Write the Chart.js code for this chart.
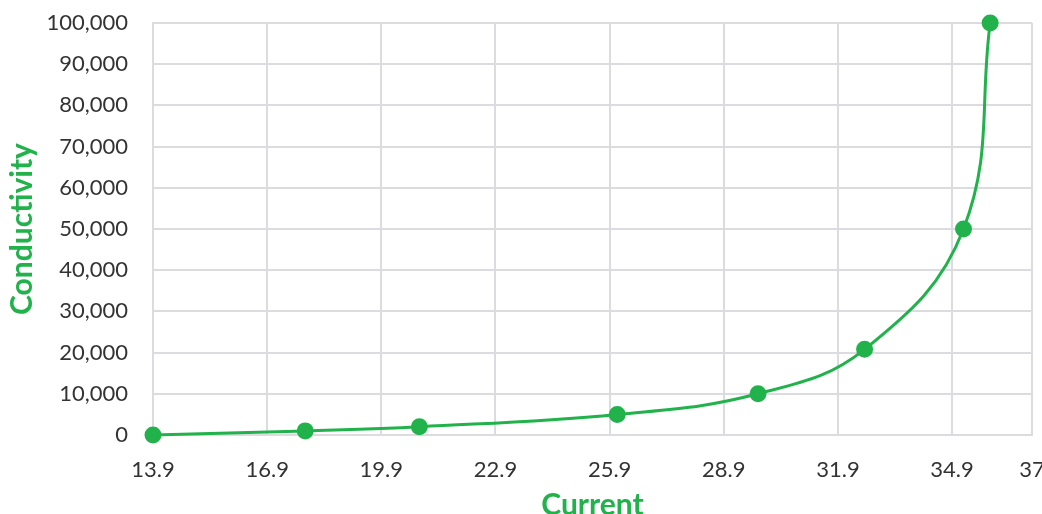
<!DOCTYPE html>
<html>
<head>
<meta charset="utf-8">
<script src="https://cdn.jsdelivr.net/npm/chart.js@4/dist/chart.umd.min.js"></script>
<style>
  html, body { margin: 0; padding: 0; background: #fff; }
  #wrap { width: 1042px; height: 514px; }
</style>
</head>
<body>
<div id="wrap"><canvas id="conductivityChart"></canvas></div>
<script>
const currentValues = [13.9, 17.9, 20.9, 26.1, 29.8, 32.6, 35.2, 35.9];
const conductivityValues = [0, 1000, 2000, 5000, 10000, 20800, 50000, 100000];
const xTickLabels = [13.9, 16.9, 19.9, 22.9, 25.9, 28.9, 31.9, 34.9, 37];
const yTickLabels = [0, 10000, 20000, 30000, 40000, 50000, 60000, 70000, 80000, 90000, 100000];

const green = '#22b24c';
const gridColor = '#dcdce0';
const tickFont = { family: 'Lato', size: 22 };
const titleFont = { family: 'Lato', size: 30, weight: 'bold' };

const ctx = document.getElementById('conductivityChart');

new Chart(ctx, {
  type: 'line',
  data: {
    datasets: [{
      label: 'Conductivity',
      data: currentValues.map((x, i) => ({ x: x, y: conductivityValues[i] })),
      borderColor: green,
      backgroundColor: green,
      borderWidth: 3,
      pointRadius: 7,
      pointHoverRadius: 7,
      tension: 0.4,
      clip: false
    }]
  },
  options: {
    responsive: true,
    maintainAspectRatio: false,
    animation: false,
    layout: { padding: { left: 4, top: 23, right: -4, bottom: 0 } },
    plugins: {
      legend: { display: false },
      tooltip: { enabled: false }
    },
    scales: {
      x: {
        type: 'linear',
        min: 13.9,
        max: 37,
        afterBuildTicks: scale => {
          scale.ticks = xTickLabels.map(v => ({ value: v }));
        },
        afterFit: scale => {
          scale.paddingRight = 0;
          scale.height = 79;
        },
        ticks: {
          color: '#333',
          font: tickFont,
          padding: 22,
          maxRotation: 0,
          autoSkip: false,
          callback: v => String(v)
        },
        grid: { color: gridColor, lineWidth: 2, drawTicks: false },
        border: { color: gridColor, width: 2 },
        title: {
          display: true,
          text: 'Current',
          color: green,
          font: { ...titleFont, lineHeight: 0.6 },
          padding: { top: 7, bottom: 0 }
        }
      },
      y: {
        min: 0,
        max: 100000,
        afterBuildTicks: scale => {
          scale.ticks = yTickLabels.map(v => ({ value: v }));
        },
        afterFit: scale => {
          scale.width = 149;
          scale.paddingTop = 0;
        },
        ticks: {
          color: '#333',
          font: tickFont,
          padding: 25,
          callback: v => v.toLocaleString('en-US')
        },
        grid: { color: gridColor, lineWidth: 2, drawTicks: false },
        border: { color: gridColor, width: 2 },
        title: {
          display: true,
          text: 'Conductivity',
          color: green,
          font: titleFont,
          padding: { top: 0, bottom: 8 }
        }
      }
    }
  }
});
</script>
</body>
</html>
